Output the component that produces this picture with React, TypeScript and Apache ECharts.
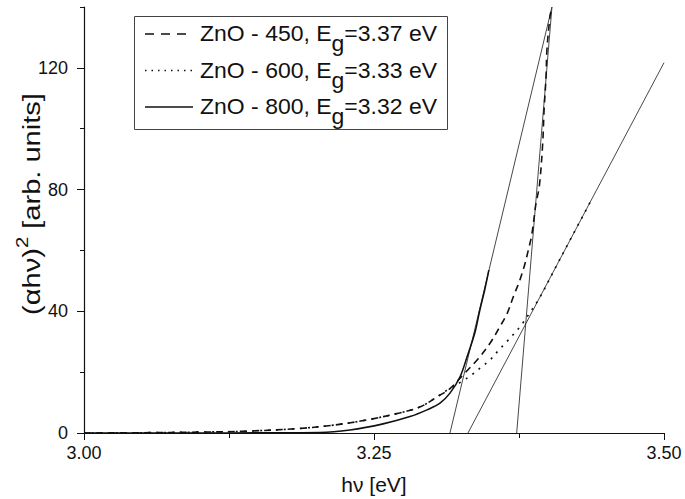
import React, { useEffect, useRef } from "react";
import * as echarts from "echarts";

// ---- data ----
const seriesNames = ["ZnO - 450", "ZnO - 600", "ZnO - 800"];
const bandGaps = [3.37, 3.33, 3.32];

const x450 = [3.0, 3.05, 3.1, 3.14, 3.186, 3.2155, 3.244, 3.272, 3.29, 3.304, 3.3155, 3.327, 3.34, 3.35, 3.3586, 3.3649, 3.3701, 3.3753, 3.3796, 3.3831, 3.386, 3.3897, 3.3925, 3.3954, 3.3966, 3.3983, 3.3991, 3.4017, 3.4034];
const y450 = [0, 0.1, 0.3, 0.6, 1.5, 2.6, 4.3, 6.6, 8.6, 11.8, 14.6, 19.2, 24.5, 29.5, 35.0, 39.4, 44.8, 49.8, 54.9, 60.2, 65.1, 75.6, 81.0, 95.0, 106.0, 117.0, 126.0, 136.8, 140.0];

const x600 = [3.0, 3.05, 3.1, 3.14, 3.186, 3.2155, 3.244, 3.272, 3.29, 3.304, 3.3155, 3.3256, 3.3342, 3.3414, 3.35, 3.3572, 3.3644, 3.3716, 3.3782, 3.3831, 3.393, 3.406, 3.419, 3.437];
const y600 = [0, 0.1, 0.3, 0.6, 1.5, 2.6, 4.3, 6.6, 8.6, 11.8, 14.7, 16.9, 19.1, 21.3, 24.0, 27.1, 30.0, 33.0, 36.1, 38.8, 44.6, 54.0, 63.4, 76.3];

const x800 = [3.0, 3.05, 3.1, 3.15, 3.2034, 3.2293, 3.2578, 3.281, 3.2957, 3.3069, 3.3155, 3.3241, 3.3302, 3.337, 3.341, 3.3457, 3.349];
const y800 = [0, 0.0, 0.0, 0.05, 0.15, 1.0, 3.0, 5.4, 7.6, 9.8, 13.1, 18.4, 25.0, 33.0, 40.0, 47.5, 53.5];

// linear fits (tangents): end points
const fit450X = [3.373, 3.4034];
const fit450Y = [0, 140];
const fit600X = [3.331, 3.5];
const fit600Y = [0, 121.7];
const fit800X = [3.3155, 3.4034];
const fit800Y = [0, 140];

const xTicks = [3.0, 3.25, 3.5];
const yMajorTicks = [0, 40, 80, 120];
const yMinorTicks = [20, 60, 100, 140];

const yTitleParts = ["(αhν)", "2", " [arb. units]"];
const xTitle = "hν [eV]";

const FONT = "'Liberation Sans', Arial, sans-serif";

const pairs = (xs: number[], ys: number[]) => xs.map((x, i) => [x, ys[i]]);

let ctx: CanvasRenderingContext2D | null = null;
const measure = (text: string, size: number) => {
  if (!ctx) ctx = document.createElement("canvas").getContext("2d");
  if (!ctx) return text.length * size * 0.55;
  ctx.font = `${size}px 'Liberation Sans', Arial, sans-serif`;
  return ctx.measureText(text).width;
};

export default function App() {
  const ref = useRef<HTMLDivElement>(null);

  useEffect(() => {
    if (!ref.current) return;
    const chart = echarts.init(ref.current, null, { renderer: "svg" });

    const curveDash: any[] = [[7, 5], [2, 6], "solid"];
    const legendDash: any[] = [[9, 7], [1.5, 5], null];
    const curves = [pairs(x450, y450), pairs(x600, y600), pairs(x800, y800)];
    const fits = [pairs(fit450X, fit450Y), pairs(fit600X, fit600Y), pairs(fit800X, fit800Y)];

    const series: any[] = [];
    fits.forEach((d, i) => {
      series.push({
        type: "line",
        name: "fit" + i,
        data: d,
        symbol: "none",
        lineStyle: { color: "#333", width: 0.9 },
        silent: true,
      });
    });
    curves.forEach((d, i) => {
      series.push({
        type: "line",
        name: seriesNames[i],
        data: d,
        symbol: "none",
        smooth: 0.35,
        lineStyle: { color: "#111", width: 1.6, type: curveDash[i] },
      });
    });

    // ---- legend (graphic) ----
    const LF = 22; // legend font size
    const SUB = 10; // subscript drop
    const legendRowY = [34, 70.5, 107];
    const els: any[] = [
      {
        type: "rect",
        shape: { x: 134.5, y: 16.5, width: 313, height: 113 },
        style: { fill: "#fff", stroke: "#444", lineWidth: 1 },
        z: 10,
      },
    ];
    const rowParts = seriesNames.map((n, i) => [`${n}, E`, "g", `=${bandGaps[i].toFixed(2)} eV`]);
    const w0 = rowParts[0].reduce((s, p) => s + measure(p, LF), 0);
    const kL = 237 / w0;
    rowParts.forEach((parts, i) => {
      const cy = legendRowY[i];
      els.push({
        type: "line",
        shape: { x1: 145, y1: cy, x2: 193, y2: cy },
        style: { stroke: "#111", lineWidth: 1.5, lineDash: legendDash[i] },
        z: 11,
      });
      let xx = 0;
      parts.forEach((p, j) => {
        els.push({
          type: "text",
          x: 200 + xx * kL,
          y: cy + (j === 1 ? SUB : 0),
          scaleX: kL,
          z: 12,
          style: { text: p, font: `${LF}px ${FONT}`, fill: "#111", verticalAlign: "middle", align: "left" },
        });
        xx += measure(p, LF);
      });
    });

    // ---- y-axis title (rotated) ----
    const TF = 23;
    const sizes = [TF, 16, TF];
    const wt = yTitleParts.reduce((s, p, j) => s + measure(p, sizes[j]), 0);
    const kT = 222 / wt;
    const tChildren: any[] = [];
    let tx = -wt / 2;
    yTitleParts.forEach((p, j) => {
      tChildren.push({
        type: "text",
        x: tx,
        y: j === 1 ? -10 : 0,
        style: { text: p, font: `${sizes[j]}px ${FONT}`, fill: "#111", verticalAlign: "middle", align: "left" },
      });
      tx += measure(p, sizes[j]);
    });
    els.push({ type: "group", x: 32, y: 204, rotation: Math.PI / 2, scaleX: kT, children: tChildren });

    chart.setOption({
      animation: false,
      backgroundColor: "#fff",
      grid: { left: 84, right: 21, top: 7, bottom: 66, containLabel: false, outerBoundsMode: "none" },
      xAxis: {
        type: "value",
        min: 3.0,
        max: 3.5,
        interval: 0.25,
        name: xTitle,
        nameLocation: "middle",
        nameGap: 41,
        nameTextStyle: { fontSize: 21, fontFamily: FONT, color: "#111" },
        axisLine: { show: true, onZero: false, lineStyle: { color: "#111", width: 1.2 } },
        axisTick: { show: true, length: 7, lineStyle: { color: "#111" } },
        minorTick: { show: true, splitNumber: 2, length: 5, lineStyle: { color: "#111" } },
        axisLabel: {
          fontSize: 18,
          fontFamily: FONT,
          color: "#111",
          margin: 11,
          customValues: xTicks,
          formatter: (v: number) => v.toFixed(2),
        },
        splitLine: { show: false },
        minorSplitLine: { show: false },
      },
      yAxis: [
        {
          type: "value",
          min: 0,
          max: 140,
          interval: 20,
          axisLine: { show: true, onZero: false, lineStyle: { color: "#111", width: 1.2 } },
          axisTick: { show: true, length: 7, customValues: yMajorTicks, lineStyle: { color: "#111" } },
          axisLabel: { fontSize: 18, fontFamily: FONT, color: "#111", margin: 16, customValues: yMajorTicks },
          splitLine: { show: false },
        },
        {
          type: "value",
          min: 0,
          max: 140,
          interval: 20,
          position: "left",
          axisLine: { show: false },
          axisTick: { show: true, length: 4, customValues: yMinorTicks, lineStyle: { color: "#111" } },
          axisLabel: { show: false },
          splitLine: { show: false },
        },
      ],
      series,
      graphic: els,
    });

    return () => chart.dispose();
  }, []);

  return (
    <div
      ref={ref}
      style={{ position: "fixed", left: 0, top: 0, width: 685, height: 499, background: "#fff" }}
    />
  );
}
